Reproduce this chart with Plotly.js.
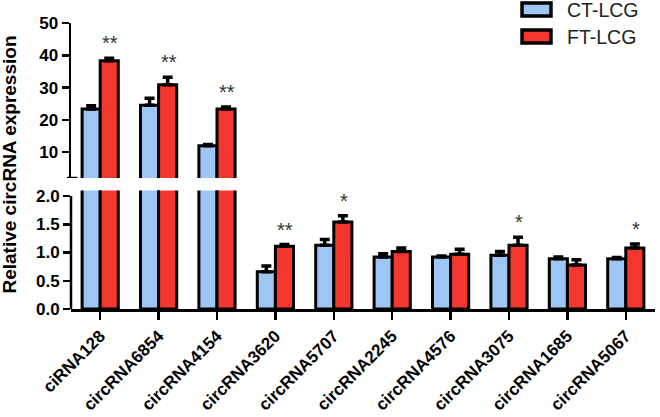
<!DOCTYPE html>
<html>
<head>
<meta charset="utf-8">
<script src="https://cdn.plot.ly/plotly-3.0.1.min.js"></script>
<style>html,body{margin:0;padding:0;background:#fff;}#chart{width:660px;height:417px;}</style>
</head>
<body>
<div id="chart"></div>
<script>
const categories = ['ciRNA128','circRNA6854','circRNA4154','circRNA3620','circRNA5707','circRNA2245','circRNA4576','circRNA3075','circRNA1685','circRNA5067'];
const ctValues = [23.4, 24.5, 12.0, 0.66, 1.13, 0.92, 0.92, 0.95, 0.89, 0.89];
const ctErrors = [1.0, 2.2, 0.4, 0.10, 0.10, 0.06, 0.02, 0.07, 0.03, 0.02];
const ftValues = [38.3, 30.9, 23.4, 1.11, 1.54, 1.02, 0.97, 1.13, 0.78, 1.08];
const ftErrors = [0.8, 2.3, 0.6, 0.03, 0.11, 0.06, 0.09, 0.14, 0.09, 0.07];
const significance = ['**','**','**','**','*','','','*','','*'];
const seriesNames = ['CT-LCG','FT-LCG'];
const lowerTicks = [0, 0.5, 1.0, 1.5, 2.0];
const upperTicks = [10, 20, 30, 40, 50];

const BLUE = '#9ec6f5', RED = '#f3372f';
const FONT = 'Arial, "Liberation Sans", sans-serif';
const lowerTop = 2.1, upperBottom = 2.0;

function barTrace(name, vals, errs, color, yaxis, onlyAbove) {
  const v = onlyAbove ? vals.map(d => d > onlyAbove ? d : null) : vals;
  const e = onlyAbove ? errs.map((d, i) => vals[i] > onlyAbove ? d : 0) : errs;
  return {
    type: 'bar', name: name, x: categories, y: v, yaxis: yaxis, xaxis: 'x',
    marker: {color: color, line: {color: '#000', width: 3}},
    error_y: {type: 'data', array: e, arrayminus: e.map(() => 0), symmetric: false,
              color: '#000', thickness: 3.5, width: 5},
    showlegend: false, hoverinfo: 'x+y'
  };
}

const traces = [
  barTrace(seriesNames[0], ctValues, ctErrors, BLUE, 'y'),
  barTrace(seriesNames[1], ftValues, ftErrors, RED, 'y'),
  barTrace(seriesNames[0], ctValues, ctErrors, BLUE, 'y2', upperBottom),
  barTrace(seriesNames[1], ftValues, ftErrors, RED, 'y2', upperBottom)
];

const annotations = [];
significance.forEach((s, i) => {
  if (!s) return;
  const top = ftValues[i] + ftErrors[i];
  annotations.push({
    text: s, x: categories[i], y: top, xref: 'x', yref: top > lowerTop ? 'y2' : 'y',
    xshift: 10, yshift: 15, showarrow: false, yanchor: 'middle', xanchor: 'center',
    font: {family: FONT, size: 20, color: '#333'}
  });
});

// y-axis title
annotations.push({
  text: 'Relative circRNA expression', textangle: -90, xref: 'paper', yref: 'paper',
  x: -0.105, y: 0.504, xanchor: 'center', yanchor: 'middle', showarrow: false,
  font: {family: FONT, size: 19, color: '#000', weight: 'bold'}
});

// custom legend
const legendY = [[1.0245, 1.0699], [0.930, 0.9755]];
const legendColors = [BLUE, RED];
const shapes = [];
seriesNames.forEach((n, i) => {
  shapes.push({type: 'rect', xref: 'paper', yref: 'paper', x0: 0.7723, x1: 0.8219,
    y0: legendY[i][0], y1: legendY[i][1], fillcolor: legendColors[i], line: {color: '#000', width: 3.5}});
  annotations.push({text: n, xref: 'paper', yref: 'paper', x: 0.8459,
    y: (legendY[i][0] + legendY[i][1]) / 2, xanchor: 'left', yanchor: 'middle', showarrow: false,
    font: {family: FONT, size: 19.5, color: '#222'}});
});

// lower axis line (0 to 2.0) and break serif of upper axis
shapes.push({type: 'line', xref: 'paper', yref: 'y', x0: 0, x1: 0, y0: 0, y1: 2.0, line: {color: '#000', width: 2.5}});
shapes.push({type: 'line', xref: 'paper', yref: 'y2', x0: -0.007, x1: 0.011, y0: upperBottom, y1: upperBottom, line: {color: '#000', width: 2.5}});

const layout = {
  width: 660, height: 417,
  margin: {l: 71, r: 5, t: 23, b: 108},
  paper_bgcolor: '#fff', plot_bgcolor: '#fff',
  barmode: 'group', bargap: 0.38, bargroupgap: 0,
  font: {family: FONT, color: '#000'},
  xaxis: {
    type: 'category', range: [-0.5, 9.5], showline: true, linecolor: '#000', linewidth: 2.5,
    ticks: 'outside', ticklen: 8, tickwidth: 2.5, tickcolor: '#000', tickangle: -45,
    tickfont: {family: FONT, size: 17, color: '#000', weight: 'bold'},
    showgrid: false, zeroline: false, anchor: 'y'
  },
  yaxis: {
    domain: [0, 0.4147], range: [0, lowerTop], tickvals: lowerTicks, tickformat: '.1f',
    showline: false, ticks: 'outside', ticklen: 7, tickwidth: 2.5, tickcolor: '#000',
    tickfont: {family: FONT, size: 17, color: '#000', weight: 'bold'},
    showgrid: false, zeroline: false, anchor: 'x'
  },
  yaxis2: {
    domain: [0.458, 1], range: [upperBottom, 50], tickvals: upperTicks,
    showline: true, linecolor: '#000', linewidth: 2.5, ticks: 'outside', ticklen: 7, tickwidth: 2.5, tickcolor: '#000',
    tickfont: {family: FONT, size: 17, color: '#000', weight: 'bold'},
    showgrid: false, zeroline: false, anchor: 'x'
  },
  annotations: annotations,
  shapes: shapes
};

Plotly.newPlot('chart', traces, layout, {displayModeBar: false, staticPlot: true});
</script>
</body>
</html>
